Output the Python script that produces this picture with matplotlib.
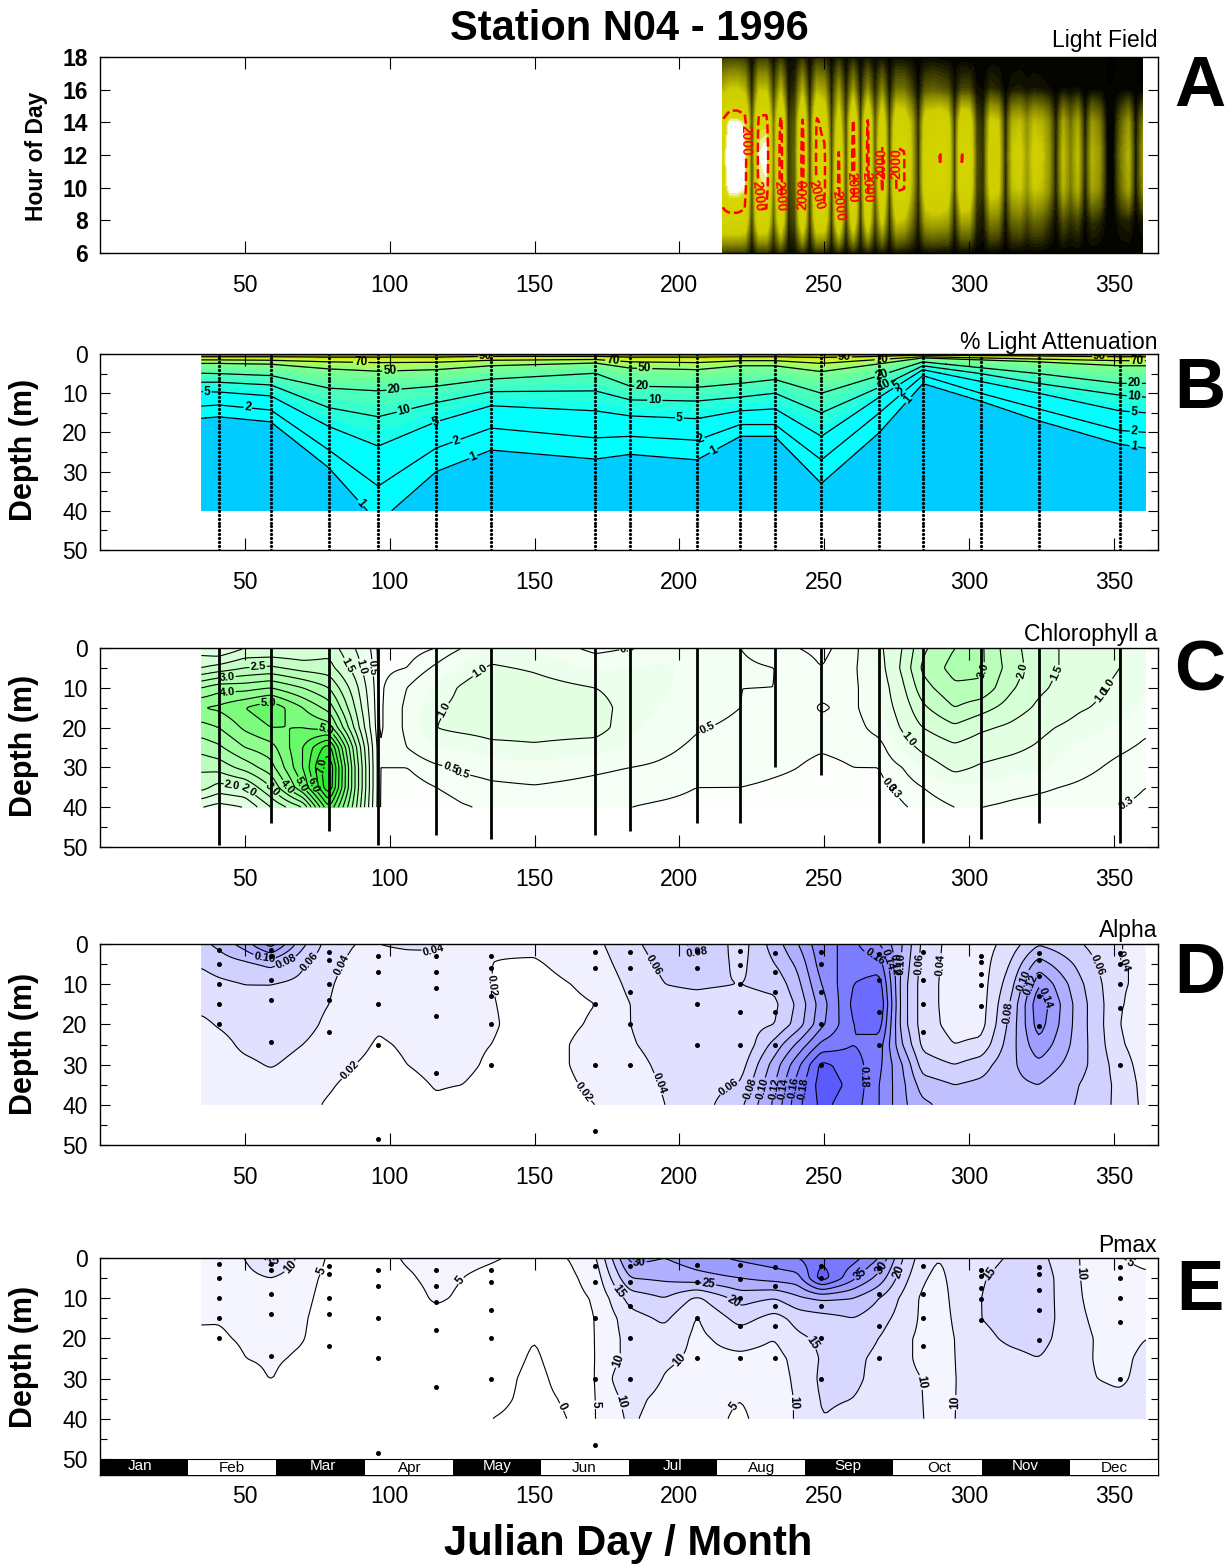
import numpy as np
import matplotlib
matplotlib.use("Agg")
import matplotlib.pyplot as plt
from matplotlib.colors import LinearSegmentedColormap

plt.rcParams['font.family'] = ['Liberation Sans', 'DejaVu Sans']

# ---------- data ----------
title = "Station N04 - 1996"
months = ["Jan", "Feb", "Mar", "Apr", "May", "Jun", "Jul", "Aug", "Sep", "Oct", "Nov", "Dec"]
month_label_days = [13.8, 45.6, 77, 107, 137, 167, 197.5, 228.5, 258, 289.5, 319.5, 350]

# Panel A: light field, one list per hour of day, columns every 2.5 days from day 215
light_start_day = 215
light_step = 2.5
light_hours = [6, 8, 10, 12, 14, 16, 18]
light_h06 = [200,220,220,200,40,190,190,60,170,50,60,150,30,140,130,40,120,40,110,40,100,40,80,20,70,50,40,10,40,40,30,40,10,30,30,10,10,15,10,0,10,10,5,5,5,0,0,0,0,0,0,0,0,0,0,0,0,0,0]
light_h08 = [1900,1850,1850,1800,150,1850,1800,320,1750,180,320,1800,100,1750,1700,140,1900,140,1700,140,1600,200,1300,120,1200,1100,600,80,900,1000,950,900,110,900,900,170,100,650,600,50,500,550,300,500,450,250,30,350,200,300,20,220,160,10,10,120,150,10,100]
light_h10 = [2150,2500,2500,2400,200,2300,2350,450,2250,250,450,2200,150,2250,2200,200,2200,200,2200,200,2200,300,2100,200,2100,2050,1050,120,1600,1700,1900,1600,200,1900,1700,320,200,1400,1300,100,1100,1200,750,1200,1100,750,100,1000,550,1000,80,900,700,40,40,520,900,40,700]
light_h12 = [2200,2600,2700,2500,200,2400,2500,500,2350,250,500,2300,150,2300,2200,200,2050,200,2300,200,2200,300,2100,200,2100,2050,1100,120,1700,1800,2030,1700,200,2030,1800,350,200,1500,1400,100,1200,1300,800,1300,1200,800,100,1100,600,1100,100,1000,800,50,50,600,1000,50,800]
light_h14 = [2100,2450,2450,2350,200,2250,2250,420,2200,230,420,2100,140,2150,1700,180,1500,180,2100,180,2100,280,1700,180,1700,1600,1000,110,1500,1600,1700,1500,170,1700,1600,300,170,1300,1200,80,1000,1100,700,1100,1000,700,80,900,500,900,60,800,600,30,30,450,800,30,600]
light_h16 = [1000,1200,1200,1000,80,1100,1100,200,1000,100,200,950,60,950,850,80,800,80,800,80,700,120,650,60,550,550,300,30,400,450,400,350,50,300,300,60,40,200,150,10,100,120,70,100,80,50,0,50,30,50,0,20,20,0,0,10,20,0,0]
light_h18 = [220,240,240,220,30,220,220,50,200,40,50,190,20,180,150,25,140,20,130,20,100,30,70,10,60,40,30,0,20,30,15,5,0,0,0,0,0,0,0,0,0,0,0,0,0,0,0,0,0,0,0,0,0,0,0,0,0,0,0]

# Panel B: depth of each % light isoline at each station
station_days = [35,41,59,79,96,116,135,171,183,206,221,233,249,269,284,304,324,352,361]
iso_90 = [.7,.7,.7,.8,.8,.8,.6,.6,.8,.8,.7,.7,.9,.6,.3,.4,.5,.7,.7]
iso_70 = [1.5,1.5,1.6,2,2.2,2.1,1.6,1.4,2,2.2,1.7,1.7,2.4,1.4,.7,1,1.3,1.7,1.7]
iso_50 = [2.4,2.4,2.6,3.8,4.4,4,3,2.3,3.6,4,3,3,4.5,2.5,1,1.5,2,3,3]
iso_20 = [4.9,5,5.5,8.7,9.4,8.2,6.4,4.9,8.2,8.5,7.5,6.5,10,5.5,2,3.5,5,7.5,7.5]
iso_10 = [7.2,7.2,7.9,13.7,16,12.4,9.6,9.4,11.7,12,11,10,15,8.5,3,5,7.5,10.5,11]
iso_5 = [9.6,9.7,10.7,18.5,23.5,17.3,13.2,14.5,15.8,16.5,14.5,14,21,11,4,7,10,14.5,15]
iso_2 = [13.3,13,14.3,24.5,33.7,24,18.9,21.4,21,22,18,18,27,15,5.5,10,14,19.5,20]
iso_1 = [16.4,16,17.3,29,43,30,24.5,26.8,25.6,27,21,21,33,20,7.5,12,17,23,24]
profile_days = [41,59,79,96,116,135,171,183,206,221,233,249,269,284,304,324,352]
profile_bottom_b = [50,50,50,50,50,50,50,50,50,50,50,50,50,50,50,50,50]
profile_bottom_c = [49.5,44,46,49.5,47,48,47,46,44,44,30,32,49,49,48,44,49]

field_depths = [0,5,10,15,20,25,30,35,40]
field_days = [35,41,50,59,70,79,88,96,106,116,125,135,150,171,183,195,206,221,233,241,249,260,269,277,284,295,304,314,324,338,352,361]

# Panel C: chlorophyll a, one row per entry of field_days
chl = [
 [1.2,2.0,3.5,4.5,3.8,3.2,2.6,2.2,1.0],
 [1.0,2.2,3.8,4.6,4.0,3.4,2.7,1.8,0.8],
 [1.5,2.5,3.8,5.0,4.6,4.0,3.2,2.0,1.0],
 [1.5,2.6,4.0,5.4,5.0,4.3,3.8,3.0,2.0],
 [1.5,2.3,3.5,4.5,5.0,5.5,5.5,5.0,3.0],
 [1.8,2.2,3.0,3.8,4.8,6.8,7.6,7.5,6.0],
 [1.0,1.3,1.7,2.0,2.4,3.2,3.5,3.5,3.2],
 [.25,.25,.25,.25,.25,.3,.3,.3,.3],
 [.2,.3,.5,.55,.55,.5,.3,.2,.15],
 [.3,.55,.8,.95,1.0,.75,.45,.3,.2],
 [.5,.8,1.05,1.1,1.1,.75,.55,.38,.28],
 [.8,1.05,1.3,1.25,1.15,.9,.6,.45,.33],
 [.7,.95,1.15,1.2,1.15,.95,.65,.48,.38],
 [.42,.7,1.0,1.15,1.15,.85,.55,.42,.35],
 [.5,.75,.85,.85,.8,.7,.5,.38,.3],
 [.55,.8,.78,.72,.65,.55,.45,.35,.27],
 [.55,.65,.62,.6,.52,.45,.4,.3,.25],
 [.5,.55,.5,.5,.45,.4,.35,.3,.25],
 [.35,.5,.5,.45,.4,.38,.32,.28,.25],
 [.3,.4,.45,.42,.4,.35,.3,.27,.25],
 [.25,.3,.45,.52,.45,.32,.25,.23,.22],
 [.4,.45,.45,.45,.4,.35,.3,.25,.22],
 [.9,.8,.7,.7,.6,.4,.3,.25,.2],
 [1.5,1.6,1.4,1.2,1.05,.8,.5,.35,.28],
 [2.4,2.6,2.3,1.9,1.5,1.1,.75,.5,.35],
 [3.0,3.2,2.9,2.5,1.9,1.4,1.1,.7,.5],
 [3.1,3.1,2.9,2.2,1.6,1.2,.95,.7,.5],
 [2.2,2.3,2.1,1.8,1.4,1.1,.85,.6,.45],
 [1.7,1.7,1.6,1.4,1.1,.95,.8,.55,.4],
 [1.3,1.3,1.2,1.05,.85,.7,.6,.45,.35],
 [1.0,1.0,.9,.85,.7,.55,.42,.33,.3],
 [.8,.8,.75,.7,.55,.45,.35,.3,.28],
]

# Panel D: alpha
alpha = [
 [.075,.062,.052,.046,.035,.03,.03,.03,.03],
 [.085,.068,.056,.05,.042,.032,.03,.03,.03],
 [.11,.075,.06,.055,.05,.045,.035,.03,.03],
 [.15,.085,.06,.055,.05,.05,.042,.03,.025],
 [.085,.062,.055,.05,.048,.04,.032,.027,.025],
 [.05,.045,.042,.04,.035,.03,.027,.022,.018],
 [.04,.035,.032,.03,.03,.025,.02,.015,.012],
 [.04,.035,.03,.027,.022,.018,.015,.012,.012],
 [.042,.035,.03,.028,.026,.022,.02,.016,.014],
 [.042,.036,.032,.03,.028,.026,.024,.021,.018],
 [.035,.03,.028,.027,.026,.026,.026,.02,.016],
 [.021,.02,.02,.021,.022,.02,.016,.012,.01],
 [.024,.018,.014,.013,.012,.012,.012,.012,.012],
 [.035,.03,.024,.02,.022,.026,.026,.023,.02],
 [.055,.05,.045,.04,.04,.038,.033,.03,.027],
 [.07,.065,.06,.055,.05,.048,.045,.042,.04],
 [.085,.075,.062,.055,.052,.05,.05,.05,.05],
 [.05,.055,.06,.052,.05,.04,.05,.062,.075],
 [.09,.08,.065,.056,.06,.088,.11,.12,.125],
 [.12,.105,.095,.085,.09,.125,.155,.17,.175],
 [.155,.15,.14,.13,.135,.165,.205,.21,.205],
 [.165,.17,.18,.185,.18,.18,.19,.195,.19],
 [.14,.17,.19,.2,.19,.17,.165,.16,.16],
 [.10,.095,.09,.09,.09,.10,.12,.125,.125],
 [.055,.052,.05,.05,.05,.055,.07,.09,.105],
 [.03,.03,.03,.03,.032,.04,.06,.08,.09],
 [.03,.03,.03,.03,.032,.045,.07,.085,.09],
 [.048,.06,.07,.08,.085,.09,.095,.095,.09],
 [.078,.11,.14,.155,.15,.135,.115,.10,.095],
 [.062,.075,.085,.09,.09,.09,.088,.08,.078],
 [.04,.04,.041,.041,.04,.043,.05,.055,.055],
 [.04,.04,.038,.035,.03,.028,.03,.032,.034],
]

# Panel E: Pmax
pmax_days = [35,41,50,59,70,79,88,96,106,116,125,135,150,162,171,183,195,206,221,233,241,249,260,269,277,284,289,295,304,314,324,338,352,361]
pmax = [
 [6,6,6,5.5,4,2.5,2,2,2],
 [7,6.5,6,5.2,4.5,3,2,2,2],
 [10,8,6.5,6,5.5,5,3.5,2.5,2],
 [17,10,7,6,6,5.5,5.2,3,2],
 [8,6.5,6,5.5,5.2,4.5,3,2.5,2],
 [4.5,4,3.5,3,3,2.5,2,2,2],
 [3,2.5,2.5,2,2,2,2,2,2],
 [3.5,3,2.5,2,2,2,2,2,2],
 [5.5,4.5,3.5,3,2.5,2,2,2,2],
 [6,6,5.5,4,3,2.5,2,2,2],
 [5.5,5,4.5,3,2.5,2,2,2,1.5],
 [5.2,4.5,3.5,3,2.5,2,1.5,1,0],
 [4.5,3.5,3,2,0,-.5,-1,-1,-1],
 [5,4,3.5,3,2.5,2,1.5,.5,0],
 [9,7,5.5,5,5,5,5,5,5],
 [32,25,17,13,12,12,15.5,12,11],
 [30,26,20,16,13,11,9.5,8,7],
 [33,28,14,9.5,9,9,8,7.5,7.5],
 [36,30,22,17,12,9,7,5,4],
 [38,32,20,13,10,8.5,8,8,8],
 [40,33,24,17,14,11.5,11,10.5,10.5],
 [44,48,26,18,16,15.5,16,15.5,15],
 [42,36,25,20,17,16,16,15,14],
 [35,28,20,17,15,14,13.5,13,13],
 [20,17,14,13,11,11,11,12,13],
 [12,10.5,9,9,9,9,10,10,10],
 [10,9,8,8,8,8,8,8.5,9],
 [11,11,11,10.5,10,10,10,10,10],
 [13,14.5,15,15,13.5,12,11,11,11],
 [15.5,17,17.5,17,16,13.5,12,11.5,11],
 [16.5,18,18,18,17,15,13,12,11.5],
 [10,10,10.2,10.5,10.8,10.5,10.4,11,11],
 [5.2,7,7.5,8,8.5,9,9.5,10.5,10.5],
 [3.5,6,8,9,10,11,11,11,11],
]

# Sample depths for the dots of panels D and E
sample_days = [41,59,79,96,116,135,171,183,206,221,233,249,269,284,304,324,352]
sample_depths = [
 [1.5,5,10,15,20],[1.5,3,9,14,24.5],[2,4,10,14,22],[3,7,15,25,48.5],[3,7,11,18,32],
 [3,6,13,20,30],[2,6,15,30,46.5],[2,6,12,20,30],[1.8,6,15,25],[1.7,5.2,10,17,25],
 [2.3,7,12,17,25],[2,5,12,20,30],[2.5,9,17,25],[2,9,15,22],[3,4.5,7.5,10.3,15.5],
 [2.3,4,8,13,20.5],[2.3,5,10,16,30],
]

# ---------- helpers ----------
W, H = 1231, 1564
fig = plt.figure(figsize=(W / 100, H / 100), dpi=100)


def make_axes(y0, y1, ylim, yticks, yminor, bold=False, xpad=15):
    ax = fig.add_axes([100 / W, 1 - y1 / H, 1058 / W, (y1 - y0) / H])
    ax.set_xlim(0, 365.2)
    ax.set_ylim(*ylim)
    ax.set_xticks([50, 100, 150, 200, 250, 300, 350])
    ax.set_yticks(yticks)
    ax.set_yticks(yminor, minor=True)
    ax.tick_params(axis='x', which='major', direction='in', top=True, length=8.5, width=.8,
                   labelsize=16.5, pad=xpad)
    ax.tick_params(axis='y', which='major', direction='in', right=True, length=7, width=.8,
                   labelsize=16.5, pad=9)
    ax.tick_params(axis='y', which='minor', direction='in', right=True, length=5, width=.8)
    if bold:
        for t in ax.get_yticklabels():
            t.set_fontweight('bold')
    for s in ax.spines.values():
        s.set_linewidth(1)
    return ax


def smooth1d(a, kernel, axis):
    k = np.array(kernel, float)
    k /= k.sum()
    pad = len(k) // 2
    return np.apply_along_axis(
        lambda v: np.convolve(np.pad(v, pad, mode='edge'), k, mode='valid'), axis, a)


def resample(xs, ys, z, dx, dy, kx, ky):
    """Fine regular grid from a table with one row per x and one column per y."""
    z = np.asarray(z, float)
    xf = np.arange(xs[0], xs[-1] + dx / 2, dx)
    yf = np.arange(ys[0], ys[-1] + dy / 2, dy)
    a = np.array([np.interp(yf, ys, row) for row in z])
    b = np.array([np.interp(xf, xs, a[:, j]) for j in range(len(yf))])
    if len(kx) > 1:
        b = smooth1d(b, kx, 1)
    if len(ky) > 1:
        b = smooth1d(b, ky, 0)
    return xf, yf, b


def cmap_of(colors):
    return LinearSegmentedColormap.from_list('c', [(p, tuple(c / 255 for c in rgb)) for p, rgb in colors])


def labels(ax, cs, pts, fmt, size=7.5, color='k'):
    txt = ax.clabel(cs, manual=pts, fmt=fmt, fontsize=size, inline=True, inline_spacing=1, colors=color)
    for t in txt:
        t.set_fontweight('bold')


def day(px):
    return (px - 100) / 2.897


# ---------- Panel A ----------
axA = make_axes(57, 253, (6, 18), [6, 8, 10, 12, 14, 16, 18], [], bold=True)
rows = np.array([light_h06, light_h08, light_h10, light_h12, light_h14, light_h16, light_h18], float)
ldays = light_start_day + light_step * np.arange(rows.shape[1])
xf, yf, za = resample(ldays, light_hours, rows.T, 0.25, 0.125, [1], [1, 2, 3, 2, 1])
levA = np.arange(0, 3050, 50)
cmA = cmap_of([(0, (0, 0, 0)), (.1, (70, 70, 0)), (.233, (140, 140, 0)), (.4, (205, 205, 0)), (.767, (215, 215, 0)),
               (.81, (255, 255, 255)), (1, (255, 255, 255))])
axA.contourf(xf, yf, za, levels=levA, cmap=cmA, vmin=0, vmax=3000, extend='both')
csA = axA.contour(xf, yf, za, levels=[2000], colors='red', linewidths=1.8, linestyles='--')
labels(axA, csA, [(day(745), 12.9), (day(757), 9.5), (day(780), 9.5), (day(803), 9.6), (day(820), 9.6),
                  (day(838), 8.9), (day(853), 10), (day(867), 10), (day(880), 11.5), (day(897), 11.5)],
       '%d', 10, 'red')

# ---------- Panel B ----------
axB = make_axes(354, 550, (50, 0), [0, 10, 20, 30, 40, 50], [5, 15, 25, 35, 45])
iso_levels = [100, 90, 70, 50, 20, 10, 5, 2, 1, .3]
iso_table = np.array([np.zeros(len(station_days)), iso_90, iso_70, iso_50, iso_20, iso_10, iso_5, iso_2, iso_1,
                      np.array(iso_1) + 20])
depth_f = np.arange(0, 40.01, .1)
day_f = np.arange(35, 361.01, .5)
iso_f = np.array([np.interp(day_f, station_days, r) for r in iso_table])
logv = np.log10(iso_levels)
zb = np.array([10 ** np.interp(depth_f, iso_f[:, j], logv) for j in range(len(day_f))]).T
fillB = [0, 1, 1.4, 2, 3, 5, 7, 10, 14, 20, 25, 30, 35, 40, 45, 50, 55, 60, 65, 70, 75, 80, 85, 90, 95, 100.1]
cmB = cmap_of([(0, (0, 255, 255)), (.3, (0, 255, 255)), (.6, (70, 255, 190)), (.85, (130, 255, 140)),
               (.93, (190, 255, 70)), (.97, (210, 240, 30)), (1, (120, 120, 0))])
colsB = [(0, 204 / 255, 1)] + [cmB((np.log10((a + b) / 2)) / 2) for a, b in zip(fillB[1:-1], fillB[2:])]
axB.contourf(day_f, depth_f, zb, levels=fillB, colors=colsB)
csB = axB.contour(day_f, depth_f, zb, levels=[1, 2, 5, 10, 20, 50, 70, 90], colors='k', linewidths=.9)
labels(axB, csB, [(133, .7), (90, 2), (100, 4.3), (101.5, 9.3), (105, 14.5), (116, 17.3), (123, 22), (129, 26.5),
                  (90, 38), (37, 9.7), (51, 13.6), (177, 1.7), (188, 3.7), (187, 9), (191.5, 12), (200, 16.3),
                  (207.5, 22), (212, 25), (257, .6), (270, 1.4), (270, 5.5), (271, 8.5), (275, 8.1), (277, 10),
                  (279, 11.7), (345, .6), (358, 1.7), (357, 7.5), (357, 11), (357, 14.5), (357, 19.5), (357, 23)],
       '%g', 8.5)
for d, b in zip(profile_days, profile_bottom_b):
    axB.plot([d] * (b + 1), np.arange(b + 1), ls='none', marker='o', ms=1.3, color='k', clip_on=True)

# ---------- Panel C ----------
axC = make_axes(648, 847, (50, 0), [0, 10, 20, 30, 40, 50], [5, 15, 25, 35, 45])
xf, yf, zc = resample(field_days, field_depths, chl, 1, .25, [1, 2, 1], [1, 2, 3, 2, 1])
fillC = [0, .3, .5, .75, 1, 1.5, 2, 2.5, 3, 3.5, 4, 4.5, 5, 5.5, 6, 6.5, 7, 7.5, 8, 9]
cmC = cmap_of([(0, (255, 255, 255)), (.1, (235, 255, 235)), (.45, (150, 255, 150)), (.75, (50, 240, 50)), (1, (0, 225, 0))])
colsC = [cmC(((a + b) / 2) / 9) for a, b in zip(fillC[:-1], fillC[1:])]
axC.contourf(xf, yf, zc, levels=fillC, colors=colsC)
csC = axC.contour(xf, yf, zc, levels=[.3, .5, 1, 1.5, 2, 2.5, 3, 3.5, 4, 4.5, 5, 5.5, 6, 6.5, 7, 7.5],
                  colors='k', linewidths=.8)
labels(axC, csC, [(day(258), 4.3), (day(227), 7.3), (day(227), 10.8), (day(268), 13), (day(232), 35),
                  (day(249), 35.5), (day(273), 35.5), (day(287), 35), (day(299), 34.5), (day(312), 34.5),
                  (day(327), 20), (day(327), 30), (day(343), 5), (day(358), 5), (day(372), 5), (day(436), 15),
                  (day(491), 10), (day(457), 26), (day(458), 34), (day(656), 5), (day(711), 22), (day(903), 24),
                  (day(888), 34.5), (day(900), 34.5), (day(986), 6), (day(1025), 6), (day(1054), 6), (day(1087), 6),
                  (day(1118), 15), (day(1117), 35)],
       '%.1f', 8)
for d, b in zip(profile_days, profile_bottom_c):
    axC.plot([d, d], [0, b], color='k', lw=2, solid_capstyle='butt')

# ---------- Panel D ----------
axD = make_axes(944, 1145, (50, 0), [0, 10, 20, 30, 40, 50], [5, 15, 25, 35, 45])
xf, yf, zd = resample(field_days, field_depths, alpha, 1, .25, [1, 2, 1], [1, 2, 3, 4, 3, 2, 1])
fillD = [0, .02, .04, .06, .08, .10, .12, .14, .16, .18, .20, .22, .3]
cmD = cmap_of([(0, (255, 255, 255)), (.1, (240, 240, 255)), (.2, (225, 225, 255)), (.5, (175, 175, 255)), (1, (90, 90, 255))])
colsD = [cmD(min(a / .2, 1)) for a in fillD[:-1]]
axD.contourf(xf, yf, zd, levels=fillD, colors=colsD)
csD = axD.contour(xf, yf, zd, levels=fillD[1:-1], colors='k', linewidths=.8)
labels(axD, csD, [(day(265), 3), (day(285), 4), (day(310), 4.5), (day(330), 4), (day(434), 2.7), (day(352), 32),
                  (day(472), 11), (day(588), 36), (day(661), 34.5), (day(655), 5), (day(695), 3.5),
                  (day(730), 36), (day(750), 36), (day(762), 36), (day(775), 36), (day(786), 36), (day(797), 36),
                  (day(808), 36), (day(866), 33), (day(875), 3), (day(884), 4), (day(895), 5), (day(905), 5),
                  (day(915), 5), (day(930), 5), (day(1005), 17), (day(1023), 9), (day(1030), 10), (day(1040), 14),
                  (day(1094), 5.5), (day(1117), 5.5)],
       '%.2f', 8)
for d, ds in zip(sample_days, sample_depths):
    axD.scatter([d] * len(ds), ds, s=13, color='k', linewidths=0, zorder=5)

# ---------- Panel E ----------
axE = make_axes(1258, 1475, (54, 0), [0, 10, 20, 30, 40, 50], [5, 15, 25, 35, 45], xpad=7.5)
xf, yf, ze = resample(pmax_days, field_depths, pmax, 1, .25, [1, 2, 3, 2, 1], [1, 2, 3, 4, 3, 2, 1])
fillE = [-5, 0, 5, 10, 15, 20, 25, 30, 35, 40, 45, 50, 60]
cmE = cmap_of([(0, (255, 255, 255)), (.1, (245, 245, 255)), (.3, (215, 215, 255)), (1, (80, 80, 255))])
colsE = [cmE(max(a, 0) / 50) for a in fillE[:-1]]
axE.contourf(xf, yf, ze, levels=fillE, colors=colsE)
csE = axE.contour(xf, yf, ze, levels=fillE[1:-1], colors='k', linewidths=.8)
labels(axE, csE, [(day(275), 2.5), (day(296), 3.5), (day(320), 3), (day(465), 6.5), (day(566), 36.5), (day(600), 36.5),
                  (day(617), 36), (day(615), 9), (day(640), 2.7), (day(709), 6), (day(733), 11), (day(672), 23.5),
                  (day(630), 27), (day(733), 36.5), (day(788), 36), (day(820), 20), (day(858), 3.5), (day(918), 31),
                  (day(958), 36), (day(1083), 3.7), (day(1127), 2.5), (day(985), 3), (day(885), 3), (day(900), 3.5)],
       '%g', 8.5)
for d, ds in zip(sample_days, sample_depths):
    axE.scatter([d] * len(ds), ds, s=13, color='k', linewidths=0, zorder=5)
# month strip
m_width = 365.2 / 12
for i, m in enumerate(months):
    dark = i % 2 == 0
    axE.fill_between([i * m_width, (i + 1) * m_width], 50, 54, color='k' if dark else 'w', lw=0, zorder=6)
    axE.text(month_label_days[i], 51.7 if dark else 52.2, m, ha='center', va='center', fontsize=11,
             color='w' if dark else 'k', zorder=7)
axE.axhline(50, color='k', lw=.8, zorder=6)

# ---------- text ----------
def ftext(x, y, s, **kw):
    fig.text(x / W, 1 - y / H, s, **kw)


ftext(629, 29, title, ha='center', va='center', fontsize=30, fontweight='bold')
ftext(628, 1544, "Julian Day / Month", ha='center', va='center', fontsize=30, fontweight='bold')
for y, s in [(41, "Light Field"), (343, "% Light Attenuation"), (635, "Chlorophyll a"), (931, "Alpha"), (1245, "Pmax")]:
    ftext(1157, y, s, ha='right', va='center', fontsize=16.5)
for y, s in [(88, "A"), (390, "B"), (673, "C"), (975, "D"), (1292, "E")]:
    ftext(1200, y, s, ha='center', va='center', fontsize=51, fontweight='bold')
for y in [450, 746, 1044, 1357]:
    ftext(24, y, "Depth (m)", ha='center', va='center', rotation=90, fontsize=22, fontweight='bold')
ftext(36, 156, "Hour of Day", ha='center', va='center', rotation=90, fontsize=16.5, fontweight='bold')

fig.savefig("out.png", dpi=100)
